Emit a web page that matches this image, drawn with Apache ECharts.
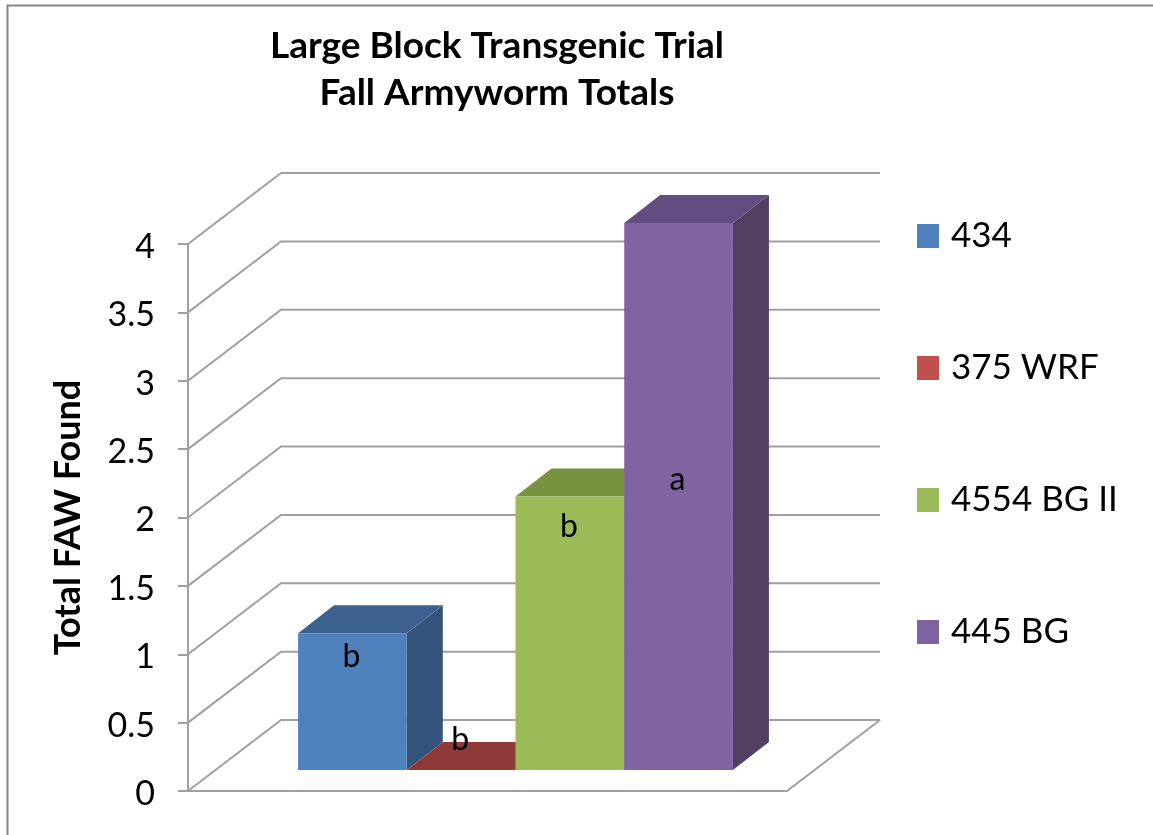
<!DOCTYPE html>
<html>
<head>
<meta charset="utf-8">
<title>Large Block Transgenic Trial</title>
<script src="https://cdn.jsdelivr.net/npm/echarts@6/dist/echarts.min.js"></script>
<style>
  html, body { margin: 0; padding: 0; background: #fff; }
  #chart { width: 1153px; height: 835px; }
</style>
</head>
<body>
<div id="chart"></div>
<script>
  const categories = ['Total'];
  const hybrids = ['434', '375 WRF', '4554 BG II', '445 BG'];
  const faw = [1, 0, 2, 4];
  const sepLetters = ['b', 'b', 'b', 'a'];
  // height (in axis units) where each letter sits on the bar
  const letterHeights = [0.83, 0.22, 1.78, 2.12];
  const yTicks = [0, 0.5, 1, 1.5, 2, 2.5, 3, 3.5, 4];

  const frontColors = ['#4f81bd', '#c0504d', '#9bbb59', '#8064a2'];
  const topColors = ['#3e628f', '#8e3a38', '#78923f', '#634c80'];
  const sideColors = ['#34547c', '#7a3230', '#667d36', '#524064'];

  const FONT = 'Lato, "Open Sans", sans-serif';
  const WALL = '#a0a0a0';
  // fake 3d: how far the back wall and the bar plane are moved from the front plane
  const WALL_DX = 93, WALL_DY = -71;
  const PLANE_DX = 28, PLANE_DY = -21;
  const BAR_DX = 36, BAR_DY = -28;
  const GAP = 1.51;

  function renderWalls(params, api) {
    const v = api.value(0);
    const band = api.size([1, 0])[0];
    const p = api.coord([0, v]);
    const left = p[0] - band / 2;
    const right = p[0] + band / 2;
    const children = [{
      type: 'polyline',
      shape: { points: [[left, p[1]], [left + WALL_DX, p[1] + WALL_DY], [right + WALL_DX, p[1] + WALL_DY]] },
      style: { stroke: WALL, lineWidth: 2, fill: null }
    }];
    if (v === 0) {
      children.push({
        type: 'polyline',
        shape: { points: [[left, p[1]], [right, p[1]], [right + WALL_DX, p[1] + WALL_DY]] },
        style: { stroke: WALL, lineWidth: 2, fill: null }
      });
    }
    return { type: 'group', children: children };
  }

  function renderBar(i) {
    return function (params, api) {
      const band = api.size([1, 0])[0];
      const w = band / (hybrids.length + GAP);
      const base = api.coord([0, 0]);
      const top = api.coord([0, api.value(1)]);
      const x0 = base[0] + PLANE_DX - w * hybrids.length / 2 + w * i;
      const x1 = x0 + w;
      const y0 = base[1] + PLANE_DY;
      const y1 = top[1] + PLANE_DY;
      const lab = api.coord([0, letterHeights[i]]);
      return {
        type: 'group',
        children: [
          {
            type: 'polygon',
            shape: { points: [[x1, y0], [x1 + BAR_DX, y0 + BAR_DY], [x1 + BAR_DX, y1 + BAR_DY], [x1, y1]] },
            style: { fill: sideColors[i] }
          },
          {
            type: 'polygon',
            shape: { points: [[x0, y1], [x1, y1], [x1 + BAR_DX, y1 + BAR_DY], [x0 + BAR_DX, y1 + BAR_DY]] },
            style: { fill: topColors[i] }
          },
          {
            type: 'rect',
            shape: { x: x0, y: y1, width: w, height: y0 - y1 },
            style: { fill: frontColors[i] }
          },
          {
            type: 'text',
            z2: 10,
            style: {
              x: (x0 + x1) / 2 - 1, y: lab[1] + PLANE_DY,
              text: sepLetters[i], fill: '#000', font: '32px ' + FONT,
              align: 'center', verticalAlign: 'middle'
            }
          }
        ]
      };
    };
  }

  const myChart = echarts.init(document.getElementById('chart'));

  const series = [{
    name: 'walls',
    type: 'custom',
    silent: true,
    renderItem: renderWalls,
    encode: { y: 0 },
    data: yTicks.map(function (t) { return [t]; })
  }];
  for (let i = 0; i < hybrids.length; i++) {
    series.push({
      name: hybrids[i],
      type: 'custom',
      renderItem: renderBar(i),
      itemStyle: { color: frontColors[i] },
      encode: { x: 0, y: 1 },
      data: [[categories[0], faw[i]]]
    });
  }

  const option = {
    animation: false,
    backgroundColor: '#fff',
    graphic: [{
      type: 'rect',
      shape: { x: 7.5, y: 5.5, width: 1300, height: 1000 },
      style: { fill: null, stroke: '#868686', lineWidth: 2 }
    }],
    title: {
      text: 'Large Block Transgenic Trial\nFall Armyworm Totals',
      left: 497,
      top: 18,
      textAlign: 'center',
      textStyle: { fontFamily: FONT, fontWeight: 'bold', fontSize: 37, lineHeight: 47, color: '#000' },
      padding: [5, 9, 5, 0]
    },
    legend: {
      data: hybrids,
      orient: 'vertical',
      left: 917,
      top: 218,
      padding: 0,
      itemWidth: 22,
      itemHeight: 24,
      itemGap: 96,
      icon: 'rect',
      selectedMode: false,
      textStyle: { fontFamily: FONT, fontSize: 35, lineHeight: 36, color: '#000', padding: [0, 0, 0, 7] }
    },
    grid: { left: 188, top: 244, width: 599, height: 547 },
    xAxis: {
      type: 'category',
      data: categories,
      axisLine: { show: false },
      axisTick: { show: false },
      axisLabel: { show: false }
    },
    yAxis: {
      type: 'value',
      min: 0,
      max: 4,
      interval: 0.5,
      name: 'Total FAW Found',
      nameLocation: 'middle',
      nameGap: 102,
      nameRotate: 90,
      nameTextStyle: { fontFamily: FONT, fontWeight: 'bold', fontSize: 36, color: '#000' },
      axisLine: { show: true, lineStyle: { color: WALL, width: 2 } },
      axisTick: { show: true, length: 10, lineStyle: { color: WALL, width: 2 } },
      axisLabel: { margin: 33, fontFamily: FONT, fontSize: 34, color: '#000', verticalAlign: 'top', lineHeight: 6 },
      splitLine: { show: false }
    },
    series: series
  };

  myChart.setOption(option);
</script>
</body>
</html>
